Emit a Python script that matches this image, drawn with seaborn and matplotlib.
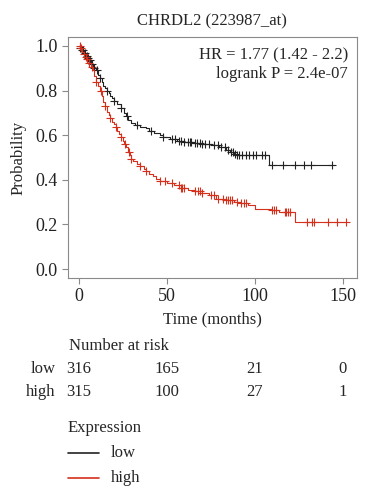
import numpy as np
import pandas as pd
import seaborn as sb
from matplotlib import pyplot as plt
from matplotlib.lines import Line2D
import matplotlib.transforms as mtransforms

# KM step curves
low_time = [0, 1, 2, 3, 4, 5, 6, 7, 8, 9, 10, 11, 12, 13, 14, 15, 16, 17, 18, 19, 20,
            22, 24, 26, 27, 28, 30, 32, 35, 38, 40, 43, 46, 48, 52, 56, 60, 65, 70,
            76, 80, 84, 86, 88, 90, 108, 145]
low_surv = [1.0, 0.99, 0.98, 0.97, 0.955, 0.945, 0.935, 0.92, 0.91, 0.90, 0.89, 0.87,
            0.855, 0.84, 0.82, 0.81, 0.80, 0.79, 0.775, 0.765, 0.755, 0.74, 0.72, 0.70,
            0.685, 0.67, 0.655, 0.645, 0.635, 0.63, 0.62, 0.61, 0.60, 0.59, 0.585, 0.575,
            0.57, 0.565, 0.56, 0.555, 0.545, 0.535, 0.525, 0.515, 0.51, 0.465, 0.465]
high_time = [0, 1, 2, 3, 4, 5, 6, 7, 8, 9, 10, 11, 12, 13, 14, 15, 16, 17, 18, 19, 20,
             21, 22, 23, 24, 25, 26, 27, 28, 29, 30, 31, 33, 35, 37, 38, 40, 42, 44, 46,
             50, 54, 58, 62, 66, 70, 74, 78, 84, 88, 92, 96, 100, 110, 114, 123, 152]
high_surv = [1.0, 0.99, 0.975, 0.965, 0.95, 0.94, 0.925, 0.905, 0.89, 0.865, 0.84, 0.82,
             0.80, 0.775, 0.75, 0.73, 0.705, 0.69, 0.675, 0.66, 0.65, 0.635, 0.62, 0.605,
             0.59, 0.575, 0.56, 0.545, 0.525, 0.51, 0.495, 0.485, 0.47, 0.46, 0.45, 0.44,
             0.425, 0.415, 0.405, 0.395, 0.385, 0.375, 0.365, 0.355, 0.35, 0.34, 0.33,
             0.315, 0.31, 0.30, 0.295, 0.285, 0.27, 0.265, 0.255, 0.21, 0.21]

# censoring marks (months)
low_cens = [1, 2, 2.5, 3.5, 4.5, 5.5, 6.5, 7.5, 9, 10.5, 12, 16, 20, 24, 27.5, 33, 41, 48,
            53, 55, 57, 58, 60, 62, 63, 64, 66, 67, 69, 70, 72, 74, 77, 79, 81, 83, 85,
            86.5, 87.5, 89, 90, 91, 93, 95, 97, 99, 101, 104, 106, 110, 116, 123, 128, 132, 144]
high_cens = [0.5, 1.5, 3, 4, 5, 6, 7.5, 10, 12.5, 15, 18, 21, 24, 26.5, 28.5, 30, 35, 38,
             46, 49, 53, 57, 58, 59, 60, 66, 68, 69, 70, 75, 77, 79, 82, 84, 85, 86, 87,
             90, 92, 94, 95, 110, 111, 112, 117, 118, 119, 120, 130, 132.5, 133.5, 141.5, 147, 152]

risk_times = [0, 50, 100, 150]
risk_low = [316, 165, 21, 0]
risk_high = [315, 100, 27, 1]

col_low = '#222222'
col_high = '#d5301c'

def surv_at(times, survs, t):
    i = np.searchsorted(times, t, side='right') - 1
    return survs[max(i, 0)]

sb.set_style('ticks')
plt.rcParams['font.family'] = ['Liberation Serif', 'DejaVu Serif']
plt.rcParams['font.size'] = 12

fig = plt.figure(figsize=(3.71, 5.0), dpi=100)
ax = fig.add_axes([0.183, 0.444, 0.779, 0.482])

low_df = pd.DataFrame({'time': low_time, 'surv': low_surv})
high_df = pd.DataFrame({'time': high_time, 'surv': high_surv})
sb.lineplot(data=low_df, x='time', y='surv', drawstyle='steps-post', color=col_low,
            linewidth=0.8, ax=ax, estimator=None)
sb.lineplot(data=high_df, x='time', y='surv', drawstyle='steps-post', color=col_high,
            linewidth=0.8, ax=ax, estimator=None)

low_c = pd.DataFrame({'time': low_cens,
                      'surv': [surv_at(low_time, low_surv, t) for t in low_cens]})
high_c = pd.DataFrame({'time': high_cens,
                       'surv': [surv_at(high_time, high_surv, t) for t in high_cens]})
sb.scatterplot(data=low_c, x='time', y='surv', marker='+', color=col_low, s=30,
               linewidth=0.8, ax=ax)
sb.scatterplot(data=high_c, x='time', y='surv', marker='+', color=col_high, s=30,
               linewidth=0.8, ax=ax)

ax.set_xlim(-6.1, 158.1)
ax.set_ylim(-0.04, 1.04)
ax.set_xticks([0, 50, 100, 150])
ax.set_yticks([0.0, 0.2, 0.4, 0.6, 0.8, 1.0])
ax.set_yticklabels(['0.0', '0.2', '0.4', '0.6', '0.8', '1.0'])
for s in ax.spines.values():
    s.set_color('#8a8a8a')
    s.set_linewidth(0.8)
ax.tick_params(colors='#8a8a8a', labelcolor='#222222', labelsize=13, length=4, width=0.8)
ax.set_xlabel('Time (months)', fontsize=12, labelpad=4)
ax.set_ylabel('Probability', fontsize=12, labelpad=6)
ax.set_title('CHRDL2 (223987_at)', fontsize=12, pad=8)
ax.text(0.97, 0.955, 'HR = 1.77 (1.42 - 2.2)\nlogrank P = 2.4e-07', transform=ax.transAxes,
        ha='right', va='top', fontsize=12, linespacing=1.2)

# number at risk table
tr = mtransforms.blended_transform_factory(ax.transData, fig.transFigure)
fig.text(0.186, 0.308, 'Number at risk', ha='left', va='center', fontsize=12)
for t, lo, hi in zip(risk_times, risk_low, risk_high):
    ax.text(t, 0.262, str(lo), transform=tr, ha='center', va='center', fontsize=12)
    ax.text(t, 0.216, str(hi), transform=tr, ha='center', va='center', fontsize=12)
fig.text(0.150, 0.262, 'low', ha='right', va='center', fontsize=12)
fig.text(0.150, 0.216, 'high', ha='right', va='center', fontsize=12)

# legend
fig.text(0.183, 0.144, 'Expression', ha='left', va='center', fontsize=12)
fig.add_artist(Line2D([0.183, 0.267], [0.094, 0.094], color=col_low, linewidth=1.2))
fig.add_artist(Line2D([0.183, 0.267], [0.045, 0.045], color=col_high, linewidth=1.2))
fig.text(0.298, 0.094, 'low', ha='left', va='center', fontsize=12)
fig.text(0.298, 0.045, 'high', ha='left', va='center', fontsize=12)

plt.savefig('out.png', dpi=100)
